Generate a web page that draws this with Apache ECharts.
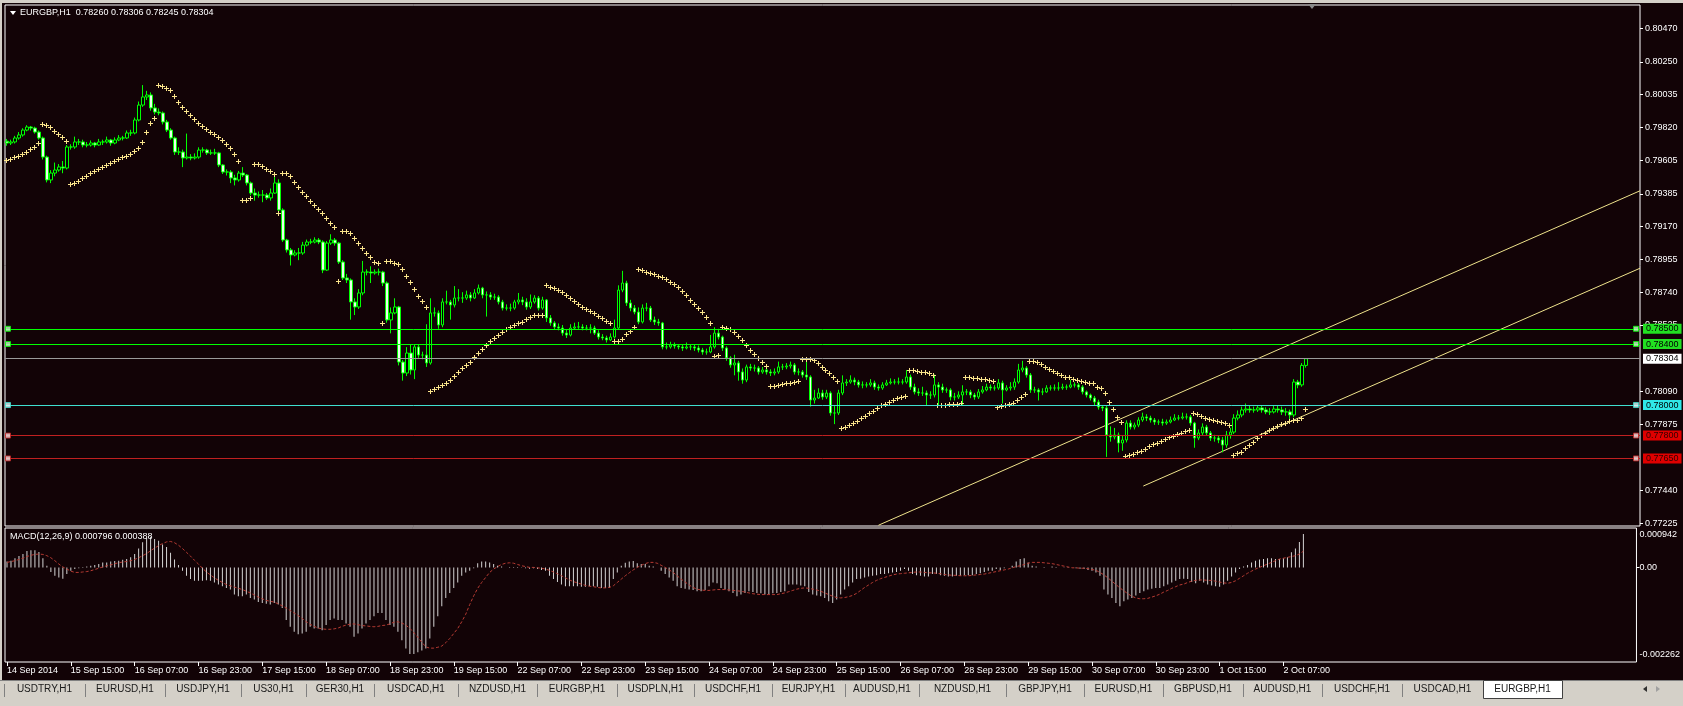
<!DOCTYPE html>
<html><head><meta charset="utf-8">
<style>html,body{margin:0;padding:0;background:#120306;overflow:hidden}#c{width:1683px;height:706px}</style>
<script src="https://cdn.jsdelivr.net/npm/echarts@6.0.0/dist/echarts.min.js"></script>
</head><body><div id="c"></div><script>
const symbolName = 'EURGBP,H1';
const firstOpen = 0.79730;
const closes = [
0.79718,0.79725,0.79751,0.79771,0.79803,0.79823,0.79816,0.79790,0.79751,0.79626,
0.79476,0.79521,0.79541,0.79561,0.79554,0.79692,0.79692,0.79725,0.79725,0.79705,
0.79705,0.79718,0.79705,0.79725,0.79725,0.79738,0.79718,0.79738,0.79751,0.79751,
0.79784,0.79784,0.79869,0.79967,0.80020,0.80033,0.79948,0.79921,0.79915,0.79856,
0.79803,0.79751,0.79659,0.79659,0.79620,0.79626,0.79620,0.79626,0.79672,0.79672,
0.79653,0.79653,0.79653,0.79574,0.79528,0.79528,0.79489,0.79476,0.79521,0.79508,
0.79456,0.79390,0.79377,0.79377,0.79377,0.79358,0.79390,0.79456,0.79279,0.79082,
0.79017,0.78984,0.78997,0.78997,0.79049,0.79069,0.79069,0.79082,0.79069,0.78885,
0.79062,0.79082,0.79062,0.78938,0.78833,0.78820,0.78676,0.78643,0.78735,0.78872,
0.78872,0.78866,0.78872,0.78872,0.78800,0.78558,0.78604,0.78643,0.78282,0.78210,
0.78341,0.78230,0.78381,0.78328,0.78328,0.78276,0.78604,0.78604,0.78525,0.78676,
0.78676,0.78656,0.78702,0.78702,0.78702,0.78722,0.78702,0.78735,0.78767,0.78722,
0.78722,0.78708,0.78708,0.78676,0.78636,0.78636,0.78636,0.78676,0.78689,0.78676,
0.78643,0.78676,0.78702,0.78636,0.78689,0.78571,0.78538,0.78512,0.78505,0.78472,
0.78459,0.78505,0.78512,0.78512,0.78505,0.78505,0.78505,0.78472,0.78446,0.78440,
0.78427,0.78446,0.78505,0.78754,0.78800,0.78669,0.78636,0.78610,0.78545,0.78636,
0.78636,0.78558,0.78545,0.78538,0.78381,0.78381,0.78394,0.78387,0.78381,0.78374,
0.78381,0.78381,0.78374,0.78361,0.78348,0.78348,0.78381,0.78472,0.78446,0.78374,
0.78309,0.78263,0.78276,0.78217,0.78164,0.78250,0.78243,0.78243,0.78217,0.78230,
0.78217,0.78210,0.78217,0.78250,0.78250,0.78256,0.78263,0.78217,0.78217,0.78197,
0.78184,0.78033,0.78046,0.78079,0.78053,0.78079,0.77948,0.77948,0.78079,0.78145,
0.78151,0.78164,0.78151,0.78132,0.78132,0.78132,0.78145,0.78118,0.78112,0.78132,
0.78145,0.78151,0.78151,0.78151,0.78151,0.78184,0.78118,0.78086,0.78079,0.78079,
0.78066,0.78066,0.78132,0.78118,0.78099,0.78099,0.78053,0.78053,0.78066,0.78086,
0.78086,0.78066,0.78053,0.78086,0.78099,0.78118,0.78112,0.78112,0.78145,0.78099,
0.78112,0.78118,0.78151,0.78230,0.78243,0.78197,0.78099,0.78099,0.78086,0.78086,
0.78112,0.78112,0.78112,0.78112,0.78118,0.78118,0.78132,0.78132,0.78118,0.78086,
0.78066,0.78046,0.78020,0.77987,0.77981,0.77804,0.77791,0.77804,0.77751,0.77771,
0.77882,0.77856,0.77869,0.77902,0.77922,0.77915,0.77902,0.77889,0.77889,0.77882,
0.77889,0.77902,0.77915,0.77915,0.77922,0.77922,0.77882,0.77784,0.77817,0.77856,
0.77817,0.77784,0.77784,0.77771,0.77738,0.77804,0.77823,0.77915,0.77935,0.77968,
0.77974,0.77968,0.77968,0.77981,0.77968,0.77955,0.77955,0.77974,0.77968,0.77955,
0.77955,0.77935,0.78151,0.78132,0.78260,0.78304
];
const highs = [
0.79745,0.79740,0.79765,0.79790,0.79815,0.79835,0.79830,0.79825,0.79800,0.79760,
0.79635,0.79540,0.79590,0.79580,0.79600,0.79705,0.79710,0.79760,0.79745,0.79740,
0.79725,0.79735,0.79725,0.79745,0.79740,0.79760,0.79745,0.79755,0.79770,0.79765,
0.79800,0.79805,0.79885,0.79990,0.80098,0.80060,0.80050,0.79975,0.79945,0.79925,
0.79870,0.79815,0.79760,0.79690,0.79675,0.79780,0.79645,0.79650,0.79690,0.79690,
0.79680,0.79675,0.79680,0.79660,0.79580,0.79545,0.79540,0.79510,0.79535,0.79560,
0.79515,0.79465,0.79420,0.79400,0.79410,0.79390,0.79420,0.79520,0.79480,0.79290,
0.79090,0.79030,0.79015,0.79030,0.79070,0.79085,0.79090,0.79100,0.79095,0.79080,
0.79075,0.79120,0.79095,0.79070,0.78950,0.78860,0.78830,0.78700,0.78760,0.78945,
0.78890,0.78910,0.78890,0.78895,0.78880,0.78810,0.78640,0.78700,0.78650,0.78295,
0.78380,0.78400,0.78400,0.78395,0.78350,0.78530,0.78700,0.78640,0.78620,0.78700,
0.78750,0.78690,0.78780,0.78760,0.78740,0.78750,0.78740,0.78760,0.78790,0.78775,
0.78745,0.78740,0.78730,0.78720,0.78690,0.78660,0.78665,0.78690,0.78735,0.78710,
0.78700,0.78725,0.78720,0.78715,0.78710,0.78695,0.78590,0.78550,0.78535,0.78525,
0.78495,0.78530,0.78540,0.78545,0.78530,0.78525,0.78530,0.78520,0.78490,0.78465,
0.78455,0.78470,0.78560,0.78785,0.78880,0.78815,0.78690,0.78655,0.78640,0.78660,
0.78670,0.78650,0.78580,0.78565,0.78545,0.78410,0.78415,0.78410,0.78400,0.78395,
0.78410,0.78400,0.78395,0.78390,0.78375,0.78370,0.78460,0.78510,0.78500,0.78455,
0.78385,0.78320,0.78330,0.78290,0.78240,0.78265,0.78270,0.78265,0.78255,0.78250,
0.78245,0.78235,0.78240,0.78285,0.78270,0.78275,0.78285,0.78275,0.78240,0.78230,
0.78300,0.78195,0.78100,0.78110,0.78100,0.78100,0.78090,0.78000,0.78100,0.78195,
0.78170,0.78195,0.78180,0.78165,0.78155,0.78150,0.78170,0.78160,0.78135,0.78150,
0.78165,0.78175,0.78170,0.78180,0.78170,0.78230,0.78200,0.78140,0.78110,0.78120,
0.78095,0.78090,0.78200,0.78150,0.78140,0.78115,0.78110,0.78080,0.78090,0.78130,
0.78105,0.78100,0.78080,0.78105,0.78125,0.78140,0.78135,0.78130,0.78170,0.78160,
0.78130,0.78150,0.78175,0.78270,0.78290,0.78255,0.78210,0.78120,0.78110,0.78110,
0.78130,0.78130,0.78135,0.78150,0.78140,0.78135,0.78165,0.78150,0.78145,0.78130,
0.78095,0.78075,0.78060,0.78035,0.78000,0.77995,0.77860,0.77850,0.77820,0.77800,
0.77900,0.77900,0.77885,0.77920,0.77950,0.77940,0.77930,0.77915,0.77905,0.77910,
0.77905,0.77925,0.77940,0.77935,0.77950,0.77945,0.77935,0.77890,0.77840,0.77880,
0.77870,0.77830,0.77805,0.77800,0.77790,0.77830,0.77850,0.77940,0.77965,0.77990,
0.78010,0.77995,0.77990,0.78000,0.77995,0.77985,0.77980,0.78000,0.77995,0.77990,
0.77980,0.77970,0.78170,0.78165,0.78275,0.78306
];
const lows = [
0.79700,0.79705,0.79715,0.79740,0.79760,0.79795,0.79800,0.79780,0.79740,0.79610,
0.79460,0.79455,0.79500,0.79530,0.79520,0.79545,0.79675,0.79680,0.79705,0.79690,
0.79690,0.79695,0.79690,0.79700,0.79705,0.79715,0.79700,0.79710,0.79730,0.79735,
0.79745,0.79765,0.79775,0.79860,0.79955,0.80000,0.79930,0.79905,0.79900,0.79840,
0.79790,0.79740,0.79640,0.79640,0.79560,0.79610,0.79605,0.79610,0.79615,0.79655,
0.79640,0.79640,0.79640,0.79560,0.79515,0.79505,0.79455,0.79440,0.79465,0.79495,
0.79440,0.79375,0.79340,0.79360,0.79330,0.79345,0.79340,0.79385,0.79265,0.79070,
0.79000,0.78915,0.78975,0.78950,0.78985,0.79040,0.79055,0.79060,0.79055,0.78865,
0.78880,0.79050,0.79045,0.78925,0.78820,0.78800,0.78560,0.78590,0.78630,0.78720,
0.78850,0.78800,0.78855,0.78850,0.78780,0.78540,0.78470,0.78595,0.78260,0.78160,
0.78190,0.78200,0.78170,0.78310,0.78300,0.78250,0.78265,0.78580,0.78500,0.78510,
0.78660,0.78560,0.78640,0.78680,0.78670,0.78690,0.78680,0.78695,0.78725,0.78700,
0.78580,0.78690,0.78690,0.78660,0.78620,0.78620,0.78615,0.78625,0.78660,0.78655,
0.78625,0.78630,0.78665,0.78620,0.78625,0.78545,0.78520,0.78495,0.78490,0.78455,
0.78440,0.78450,0.78495,0.78500,0.78490,0.78490,0.78470,0.78460,0.78430,0.78425,
0.78410,0.78420,0.78435,0.78495,0.78740,0.78650,0.78615,0.78595,0.78530,0.78535,
0.78615,0.78545,0.78525,0.78520,0.78365,0.78365,0.78370,0.78370,0.78365,0.78355,
0.78365,0.78360,0.78355,0.78345,0.78330,0.78330,0.78340,0.78370,0.78430,0.78355,
0.78290,0.78245,0.78195,0.78160,0.78140,0.78150,0.78225,0.78220,0.78200,0.78205,
0.78200,0.78190,0.78195,0.78205,0.78230,0.78235,0.78240,0.78200,0.78195,0.78180,
0.78165,0.77990,0.78010,0.78040,0.78035,0.78040,0.77930,0.77875,0.77935,0.78065,
0.78125,0.78140,0.78130,0.78115,0.78110,0.78115,0.78120,0.78100,0.78095,0.78100,
0.78125,0.78135,0.78135,0.78135,0.78135,0.78140,0.78100,0.78070,0.78060,0.78060,
0.78000,0.78040,0.78050,0.78000,0.78080,0.78080,0.78030,0.78030,0.78040,0.78000,
0.78065,0.78045,0.78035,0.78040,0.78075,0.78090,0.78095,0.78095,0.78100,0.78010,
0.78090,0.78095,0.78100,0.78140,0.78215,0.78180,0.78080,0.78080,0.78030,0.78065,
0.78080,0.78095,0.78095,0.78095,0.78100,0.78100,0.78110,0.78115,0.78100,0.78070,
0.78050,0.78030,0.78000,0.77970,0.77960,0.77660,0.77760,0.77775,0.77690,0.77700,
0.77755,0.77840,0.77840,0.77855,0.77890,0.77895,0.77885,0.77870,0.77870,0.77865,
0.77870,0.77880,0.77895,0.77900,0.77905,0.77905,0.77865,0.77720,0.77770,0.77800,
0.77800,0.77765,0.77760,0.77750,0.77690,0.77720,0.77780,0.77810,0.77900,0.77920,
0.77950,0.77950,0.77950,0.77955,0.77950,0.77940,0.77935,0.77945,0.77950,0.77935,
0.77930,0.77890,0.77920,0.78110,0.78120,0.78245
];
const sar = [
0.79607,0.79613,0.79626,0.79633,0.79646,0.79659,0.79679,0.79692,0.79718,0.79843,
0.79836,0.79823,0.79797,0.79777,0.79757,0.79731,0.79449,0.79456,0.79469,0.79489,
0.79502,0.79521,0.79534,0.79548,0.79561,0.79574,0.79587,0.79600,0.79613,0.79626,
0.79633,0.79646,0.79666,0.79685,0.79725,0.79790,0.79849,0.79882,0.80098,0.80092,
0.80079,0.80065,0.80026,0.79987,0.79954,0.79928,0.79902,0.79875,0.79849,0.79829,
0.79810,0.79790,0.79777,0.79757,0.79738,0.79711,0.79685,0.79646,0.79600,0.79344,
0.79344,0.79357,0.79580,0.79580,0.79567,0.79548,0.79534,0.79515,0.79259,0.79521,
0.79521,0.79502,0.79462,0.79430,0.79397,0.79371,0.79338,0.79311,0.79285,0.79259,
0.79226,0.79194,0.79167,0.78813,0.79141,0.79141,0.79128,0.79095,0.79062,0.79030,
0.78997,0.78971,0.78938,0.78931,0.78538,0.78944,0.78944,0.78931,0.78925,0.78892,
0.78846,0.78807,0.78761,0.78715,0.78682,0.78643,0.78092,0.78105,0.78118,0.78131,
0.78145,0.78164,0.78190,0.78217,0.78243,0.78263,0.78282,0.78315,0.78341,0.78368,
0.78394,0.78420,0.78440,0.78459,0.78479,0.78499,0.78512,0.78525,0.78538,0.78544,
0.78564,0.78577,0.78590,0.78590,0.78590,0.78787,0.78774,0.78767,0.78754,0.78741,
0.78722,0.78702,0.78682,0.78662,0.78643,0.78630,0.78617,0.78604,0.78584,0.78571,
0.78551,0.78538,0.78420,0.78420,0.78433,0.78466,0.78486,0.78512,0.78892,0.78885,
0.78872,0.78866,0.78859,0.78846,0.78840,0.78826,0.78807,0.78794,0.78774,0.78748,
0.78722,0.78689,0.78662,0.78636,0.78610,0.78577,0.78538,0.78322,0.78328,0.78512,
0.78505,0.78499,0.78479,0.78453,0.78426,0.78394,0.78361,0.78335,0.78308,0.78282,
0.78256,0.78125,0.78125,0.78131,0.78138,0.78145,0.78145,0.78151,0.78158,0.78302,
0.78302,0.78302,0.78295,0.78276,0.78249,0.78230,0.78210,0.78184,0.78158,0.77850,
0.77856,0.77869,0.77882,0.77895,0.77915,0.77928,0.77948,0.77961,0.77981,0.78000,
0.78007,0.78020,0.78033,0.78046,0.78053,0.78059,0.78230,0.78230,0.78223,0.78217,
0.78217,0.78210,0.78197,0.78000,0.78000,0.78000,0.78007,0.78007,0.78007,0.78013,
0.78184,0.78184,0.78177,0.78177,0.78171,0.78171,0.78164,0.78158,0.77987,0.77994,
0.78000,0.78007,0.78013,0.78033,0.78053,0.78072,0.78289,0.78289,0.78282,0.78269,
0.78249,0.78236,0.78223,0.78210,0.78197,0.78184,0.78184,0.78171,0.78164,0.78158,
0.78151,0.78145,0.78145,0.78118,0.78112,0.78079,0.78020,0.77974,0.77922,0.77889,
0.77666,0.77673,0.77679,0.77692,0.77699,0.77712,0.77732,0.77745,0.77751,0.77764,
0.77777,0.77791,0.77797,0.77810,0.77817,0.77830,0.77836,0.77948,0.77941,0.77928,
0.77915,0.77909,0.77902,0.77895,0.77889,0.77882,0.77869,0.77673,0.77686,0.77692,
0.77718,0.77738,0.77758,0.77784,0.77804,0.77817,0.77836,0.77850,0.77863,0.77876,
0.77882,0.77895,0.77902,0.77902,0.77915,0.77974
];
const macdMain = [
0.00014,0.00016,0.00022,0.00027,0.00032,0.00039,0.00041,0.00041,0.00037,0.00022,
0.00004,-0.00011,-0.00020,-0.00024,-0.00027,-0.00016,-0.00008,-0.00004,-0.00002,0.00001,
0.00002,0.00004,0.00006,0.00008,0.00012,0.00012,0.00014,0.00015,0.00016,0.00018,
0.00020,0.00024,0.00032,0.00045,0.00060,0.00070,0.00073,0.00068,0.00064,0.00055,
0.00049,0.00035,0.00019,0.00006,-0.00008,-0.00020,-0.00028,-0.00032,-0.00032,-0.00032,
-0.00031,-0.00032,-0.00036,-0.00041,-0.00045,-0.00049,-0.00053,-0.00065,-0.00069,-0.00069,
-0.00065,-0.00073,-0.00077,-0.00083,-0.00085,-0.00087,-0.00089,-0.00085,-0.00089,-0.00097,
-0.00126,-0.00142,-0.00154,-0.00160,-0.00158,-0.00154,-0.00142,-0.00146,-0.00146,-0.00150,
-0.00138,-0.00126,-0.00122,-0.00126,-0.00126,-0.00134,-0.00142,-0.00166,-0.00158,-0.00146,
-0.00134,-0.00126,-0.00117,-0.00109,-0.00109,-0.00126,-0.00138,-0.00142,-0.00154,-0.00174,
-0.00194,-0.00207,-0.00207,-0.00203,-0.00199,-0.00194,-0.00170,-0.00142,-0.00117,-0.00093,
-0.00073,-0.00061,-0.00049,-0.00036,-0.00020,-0.00012,-0.00008,-0.00002,0.00010,0.00014,
0.00014,0.00012,0.00008,0.00004,0.00002,0.00000,0.00001,0.00001,0.00001,-0.00001,
-0.00002,-0.00003,-0.00002,-0.00004,-0.00006,-0.00008,-0.00020,-0.00028,-0.00035,-0.00041,
-0.00045,-0.00045,-0.00045,-0.00045,-0.00046,-0.00046,-0.00045,-0.00045,-0.00046,-0.00049,
-0.00049,-0.00049,-0.00028,-0.00012,0.00004,0.00011,0.00014,0.00015,0.00010,0.00008,
0.00008,0.00004,0.00002,0.00000,-0.00008,-0.00016,-0.00024,-0.00032,-0.00045,-0.00049,
-0.00051,-0.00053,-0.00054,-0.00057,-0.00057,-0.00054,-0.00045,-0.00036,-0.00038,-0.00049,
-0.00053,-0.00057,-0.00061,-0.00069,-0.00065,-0.00061,-0.00057,-0.00059,-0.00061,-0.00062,
-0.00065,-0.00065,-0.00062,-0.00061,-0.00059,-0.00057,-0.00041,-0.00041,-0.00041,-0.00043,
-0.00045,-0.00059,-0.00065,-0.00067,-0.00069,-0.00073,-0.00081,-0.00085,-0.00077,-0.00065,
-0.00053,-0.00045,-0.00036,-0.00028,-0.00027,-0.00024,-0.00022,-0.00020,-0.00019,-0.00016,
-0.00016,-0.00014,-0.00012,-0.00011,-0.00008,-0.00004,-0.00008,-0.00016,-0.00019,-0.00020,
-0.00022,-0.00022,-0.00016,-0.00016,-0.00019,-0.00020,-0.00022,-0.00022,-0.00020,-0.00020,
-0.00019,-0.00019,-0.00019,-0.00016,-0.00014,-0.00011,-0.00008,-0.00008,-0.00004,-0.00006,
-0.00002,0.00000,0.00004,0.00014,0.00020,0.00022,0.00012,0.00004,0.00002,0.00000,
0.00001,0.00000,0.00002,0.00001,0.00000,-0.00001,0.00001,0.00000,-0.00002,-0.00003,
-0.00004,-0.00006,-0.00008,-0.00012,-0.00020,-0.00053,-0.00065,-0.00073,-0.00085,-0.00093,
-0.00081,-0.00077,-0.00073,-0.00067,-0.00061,-0.00057,-0.00053,-0.00051,-0.00049,-0.00049,
-0.00045,-0.00041,-0.00036,-0.00032,-0.00028,-0.00027,-0.00028,-0.00035,-0.00038,-0.00032,
-0.00036,-0.00041,-0.00043,-0.00045,-0.00046,-0.00041,-0.00032,-0.00022,-0.00012,-0.00004,
0.00002,0.00006,0.00012,0.00016,0.00019,0.00020,0.00022,0.00022,0.00020,0.00020,
0.00022,0.00024,0.00036,0.00045,0.00061,0.000796
];
const macdSignal = [
0.00012,0.00014,0.00016,0.00019,0.00022,0.00026,0.00029,0.00031,0.00032,0.00031,
0.00028,0.00023,0.00016,0.00008,0.00001,-0.00004,-0.00009,-0.00012,-0.00012,-0.00011,
-0.00010,-0.00008,-0.00005,-0.00002,0.00001,0.00004,0.00006,0.00009,0.00011,0.00013,
0.00014,0.00016,0.00019,0.00023,0.00028,0.00033,0.00040,0.00046,0.00052,0.00057,
0.00061,0.00062,0.00059,0.00053,0.00045,0.00036,0.00027,0.00017,0.00008,-0.00002,
-0.00011,-0.00018,-0.00025,-0.00031,-0.00036,-0.00041,-0.00044,-0.00047,-0.00050,-0.00053,
-0.00057,-0.00061,-0.00066,-0.00071,-0.00075,-0.00079,-0.00081,-0.00083,-0.00087,-0.00092,
-0.00097,-0.00103,-0.00109,-0.00115,-0.00122,-0.00130,-0.00136,-0.00141,-0.00145,-0.00147,
-0.00148,-0.00148,-0.00147,-0.00145,-0.00141,-0.00138,-0.00136,-0.00135,-0.00137,-0.00139,
-0.00140,-0.00141,-0.00142,-0.00141,-0.00139,-0.00138,-0.00135,-0.00131,-0.00130,-0.00133,
-0.00138,-0.00146,-0.00156,-0.00167,-0.00179,-0.00190,-0.00193,-0.00193,-0.00191,-0.00188,
-0.00180,-0.00170,-0.00158,-0.00146,-0.00130,-0.00112,-0.00089,-0.00068,-0.00050,-0.00036,
-0.00024,-0.00012,-0.00004,0.00002,0.00007,0.00010,0.00011,0.00010,0.00007,0.00004,
0.00002,0.00000,0.00000,-0.00001,-0.00002,-0.00004,-0.00007,-0.00011,-0.00015,-0.00020,
-0.00025,-0.00030,-0.00034,-0.00037,-0.00040,-0.00043,-0.00045,-0.00046,-0.00048,-0.00049,
-0.00049,-0.00048,-0.00044,-0.00036,-0.00028,-0.00020,-0.00013,-0.00006,0.00000,0.00005,
0.00009,0.00012,0.00012,0.00010,0.00005,0.00000,-0.00006,-0.00012,-0.00020,-0.00028,
-0.00035,-0.00042,-0.00048,-0.00052,-0.00054,-0.00055,-0.00055,-0.00054,-0.00053,-0.00053,
-0.00053,-0.00054,-0.00055,-0.00056,-0.00057,-0.00059,-0.00061,-0.00063,-0.00064,-0.00065,
-0.00065,-0.00065,-0.00065,-0.00065,-0.00063,-0.00061,-0.00058,-0.00055,-0.00052,-0.00050,
-0.00049,-0.00050,-0.00052,-0.00054,-0.00057,-0.00061,-0.00065,-0.00069,-0.00072,-0.00073,
-0.00072,-0.00070,-0.00067,-0.00062,-0.00055,-0.00048,-0.00042,-0.00036,-0.00031,-0.00027,
-0.00024,-0.00021,-0.00018,-0.00016,-0.00015,-0.00014,-0.00013,-0.00012,-0.00011,-0.00011,
-0.00012,-0.00013,-0.00013,-0.00014,-0.00015,-0.00017,-0.00018,-0.00019,-0.00019,-0.00020,
-0.00020,-0.00020,-0.00019,-0.00018,-0.00017,-0.00016,-0.00014,-0.00012,-0.00010,-0.00008,
-0.00006,-0.00004,-0.00001,0.00002,0.00004,0.00007,0.00010,0.00012,0.00012,0.00012,
0.00011,0.00010,0.00009,0.00007,0.00005,0.00003,0.00001,-0.00001,-0.00001,-0.00002,
-0.00002,-0.00003,-0.00005,-0.00007,-0.00012,-0.00018,-0.00025,-0.00033,-0.00041,-0.00049,
-0.00056,-0.00063,-0.00069,-0.00073,-0.00075,-0.00075,-0.00074,-0.00071,-0.00068,-0.00064,
-0.00059,-0.00055,-0.00050,-0.00046,-0.00042,-0.00040,-0.00036,-0.00033,-0.00031,-0.00030,
-0.00030,-0.00031,-0.00031,-0.00033,-0.00035,-0.00037,-0.00038,-0.00036,-0.00032,-0.00026,
-0.00020,-0.00014,-0.00009,-0.00004,0.00000,0.00004,0.00008,0.00012,0.00016,0.00020,
0.00022,0.00024,0.00026,0.00028,0.00032,0.000388
];
const timeLabels = ['14 Sep 2014','15 Sep 15:00','16 Sep 07:00','16 Sep 23:00','17 Sep 15:00','18 Sep 07:00','18 Sep 23:00','19 Sep 15:00','22 Sep 07:00','22 Sep 23:00','23 Sep 15:00','24 Sep 07:00','24 Sep 23:00','25 Sep 15:00','26 Sep 07:00','28 Sep 23:00','29 Sep 15:00','30 Sep 07:00','30 Sep 23:00','1 Oct 15:00','2 Oct 07:00'];
const labelStep = 16;
const priceTicks = [0.80470,0.80250,0.80035,0.79820,0.79605,0.79385,0.79170,0.78955,0.78740,0.78525,0.78090,0.77875,0.77440,0.77225];
const macdTicks = [-0.002262, 0, 0.000942];
const levelValues = [0.78500, 0.78400, 0.78000, 0.77800, 0.77650];
const trendLines = [[[218, 0.77212], [408.5, 0.79405]], [[284.25, 0.77469], [408.5, 0.78897]]];
const tabNames = ['USDTRY,H1','EURUSD,H1','USDJPY,H1','US30,H1','GER30,H1','USDCAD,H1','NZDUSD,H1','EURGBP,H1','USDPLN,H1','USDCHF,H1','EURJPY,H1','AUDUSD,H1','NZDUSD,H1','GBPJPY,H1','EURUSD,H1','GBPUSD,H1','AUDUSD,H1','USDCHF,H1','USDCAD,H1','EURGBP,H1'];

// ---- styling / layout (not data) ----
const FONT = 'Liberation Sans';
const BG = '#120306';
const slotCount = 409;
const tabEdges = [4,85,165,241,306,374,458,537,617,694,772,845,919,1006,1084,1163,1243,1322,1402,1483,1562];
const levelLine = ['#00ff00','#00ff00','#3fe0d0','#c02020','#c02020'];
const levelBox = ['#22e022','#22e022','#30e8e8','#e00000','#e00000'];
const levelTxt = ['#000000','#000000','#000000','#300000','#300000'];
const levelSq = ['#c8ffc8','#c8ffc8','#e0ffff','#ffe0e0','#ffe0e0'];
const SAR_COLOR = '#fbe58c';

const n = closes.length;
const opens = [firstOpen].concat(closes.slice(0, n - 1));
const candles = closes.map((c, i) => [opens[i], c, lows[i], highs[i]]);
const cats = Array.from({length: slotCount}, (_, i) => String(i));
const last = n - 1;
const titleText = symbolName + '  ' + opens[last].toFixed(5) + ' ' + highs[last].toFixed(5) + ' ' + lows[last].toFixed(5) + ' ' + closes[last].toFixed(5);
const macdText = 'MACD(12,26,9) ' + macdMain[last].toFixed(6) + ' ' + macdSignal[last].toFixed(6);
const isLabelIdx = (idx) => idx % labelStep === 0 && idx / labelStep < timeLabels.length;

const markData = levelValues.map((v, k) => ({
  yAxis: v, name: v.toFixed(5),
  lineStyle: {color: levelLine[k], width: 1, type: 'solid'},
  label: {backgroundColor: levelBox[k], color: levelTxt[k]}
}));
markData.push({
  yAxis: closes[last], name: closes[last].toFixed(5),
  lineStyle: {color: '#9a9a9a', width: 1, type: 'solid'},
  label: {backgroundColor: '#ffffff', color: '#000000'}
});

const squares = [];
levelValues.forEach((v, k) => {
  [0.25, 407.5].forEach(x => squares.push({value: [x, v], itemStyle: {color: levelSq[k], borderColor: levelLine[k], borderWidth: 1}}));
});

const graphics = [];
graphics.push({type:'rect', shape:{x:0,y:0,width:1683,height:3}, style:{fill:'#d4d0c8'}});
graphics.push({type:'rect', shape:{x:0,y:0,width:2,height:680}, style:{fill:'#d4d0c8'}});
graphics.push({type:'polygon', shape:{points:[[10,11],[16,11],[13,15]]}, style:{fill:'#ffffff'}});
graphics.push({type:'polygon', shape:{points:[[1308,4],[1316,4],[1312,9]]}, style:{fill:'#8a8a8a'}});
graphics.push({type:'rect', shape:{x:0,y:680,width:1683,height:26}, style:{fill:'#d4d0c8'}});
graphics.push({type:'line', shape:{x1:0,y1:680.5,x2:1683,y2:680.5}, style:{stroke:'#808080',lineWidth:1}});
const activeIdx = tabNames.length - 1;
graphics.push({type:'rect', shape:{x:tabEdges[activeIdx]+0.5,y:680.5,width:tabEdges[activeIdx+1]-tabEdges[activeIdx],height:18}, style:{fill:'#ffffff',stroke:'#404040',lineWidth:1}});
for (let k = 0; k < tabEdges.length; k++) {
  if (k === activeIdx || k === activeIdx + 1) continue;
  graphics.push({type:'line', shape:{x1:tabEdges[k]+0.5,y1:684,x2:tabEdges[k]+0.5,y2:697}, style:{stroke:'#808080',lineWidth:1}});
}
tabNames.forEach((t, k) => {
  const cx = (tabEdges[k] + tabEdges[k+1]) / 2;
  graphics.push({type:'text', style:{text:t, x:cx, y:689.5, align:'center', verticalAlign:'middle', textAlign:'center', textVerticalAlign:'middle', font:'10px "' + FONT + '"', fill:'#1a1a1a'}});
});
graphics.push({type:'polygon', shape:{points:[[1643,689],[1647,686],[1647,692]]}, style:{fill:'#303030'}});
graphics.push({type:'polygon', shape:{points:[[1660,689],[1656,686],[1656,692]]}, style:{fill:'#a0a0a0'}});

function renderSar(params, api) {
  const p = api.coord([api.value(0), api.value(1)]);
  const x = Math.round(p[0]) - 1, y = Math.round(p[1]);
  return {type:'group', children:[
    {type:'rect', shape:{x:x-2, y:y, width:5, height:1}, style:{fill:SAR_COLOR}},
    {type:'rect', shape:{x:x, y:y-2, width:1, height:5}, style:{fill:SAR_COLOR}}
  ]};
}

const chart = echarts.init(document.getElementById('c'), null, {renderer:'canvas'});
chart.setOption({
  animation: false,
  backgroundColor: BG,
  title: [
    {text: titleText, left: 20, top: 8, padding: 0, textStyle: {color:'#ffffff', fontSize:9, fontWeight:'normal', fontFamily:FONT}},
    {text: macdText, left: 10, top: 532, padding: 0, textStyle: {color:'#ffffff', fontSize:9, fontWeight:'normal', fontFamily:FONT}}
  ],
  grid: [
    {left:5, top:5, width:1635, height:521, show:true, borderColor:'#ffffff', borderWidth:1, backgroundColor:'transparent'},
    {left:5, top:528, width:1635, height:134, show:true, borderColor:'#ffffff', borderWidth:1, backgroundColor:'transparent'}
  ],
  xAxis: [
    {type:'category', gridIndex:0, data:cats, show:false},
    {type:'category', gridIndex:1, data:cats,
     axisLine:{show:false, onZero:false},
     axisTick:{show:true, alignWithLabel:true, interval:(i)=>isLabelIdx(i), length:4, lineStyle:{color:'#ffffff'}},
     axisLabel:{show:true, interval:(i)=>isLabelIdx(i), formatter:(v, i)=> isLabelIdx(i) ? timeLabels[i/labelStep] : '', align:'left', margin:4, color:'#ffffff', fontSize:9, fontFamily:FONT},
     splitLine:{show:false}},
    {type:'value', gridIndex:0, min:-0.5, max:slotCount-0.5, show:false, axisLine:{onZero:false}}
  ],
  yAxis: [
    {type:'value', gridIndex:0, position:'right', min:0.77207, max:0.80623,
     splitLine:{show:false}, axisLine:{show:false, onZero:false},
     axisTick:{show:true, customValues:priceTicks, length:3, lineStyle:{color:'#ffffff'}},
     axisLabel:{customValues:priceTicks, formatter:(v)=>v.toFixed(5), color:'#ffffff', fontSize:9, fontFamily:FONT, margin:5}},
    {type:'value', gridIndex:1, position:'right', min:macdTicks[0], max:macdTicks[2],
     splitLine:{show:false}, axisLine:{show:false, onZero:false},
     axisTick:{show:true, customValues:[0], length:3, lineStyle:{color:'#ffffff'}},
     axisLabel:{customValues:macdTicks, margin:3, color:'#ffffff', fontSize:9, fontFamily:FONT,
       formatter:(v)=> v > 0 ? '{t|' + v.toFixed(6) + '}' : (v < 0 ? '{b|' + v.toFixed(6) + '}' : '0.00'),
       rich:{t:{padding:[14,0,0,0], color:'#ffffff', fontSize:9, fontFamily:FONT}, b:{padding:[0,0,14,0], color:'#ffffff', fontSize:9, fontFamily:FONT}}}}
  ],
  series: [
    {type:'line', xAxisIndex:2, yAxisIndex:0, data:trendLines[0], symbol:'none', silent:true, lineStyle:{color:'#efe38c', width:1}, z:1},
    {type:'line', xAxisIndex:2, yAxisIndex:0, data:trendLines[1], symbol:'none', silent:true, lineStyle:{color:'#efe38c', width:1}, z:1},
    {type:'candlestick', xAxisIndex:0, yAxisIndex:0, data:candles, barWidth:3,
     itemStyle:{color:'#000000', color0:'#eaffea', borderColor:'#00ff00', borderColor0:'#00ff00', borderColorDoji:'#00ff00', borderWidth:1},
     markLine:{symbol:['none','none'], silent:true, precision:5, animation:false,
       label:{show:true, position:'end', distance:3, formatter:'{b}', fontSize:9, fontFamily:FONT, padding:[1,3,0,3], lineHeight:9},
       data: markData}, z:3},
    {type:'custom', xAxisIndex:0, yAxisIndex:0, data:sar.map((v,i)=>[i,v]), renderItem:renderSar, silent:true, z:4},
    {type:'scatter', xAxisIndex:2, yAxisIndex:0, data:squares, symbol:'rect', symbolSize:5, silent:true, z:5},
    {type:'bar', xAxisIndex:1, yAxisIndex:1, data:macdMain, barWidth:1, itemStyle:{color:'#d4d4d4'}, silent:true},
    {type:'line', xAxisIndex:1, yAxisIndex:1, data:macdSignal, symbol:'none', silent:true, lineStyle:{color:'#b53a32', width:1, type:[3,2]}, z:4}
  ],
  graphic: graphics
});
</script></body></html>
